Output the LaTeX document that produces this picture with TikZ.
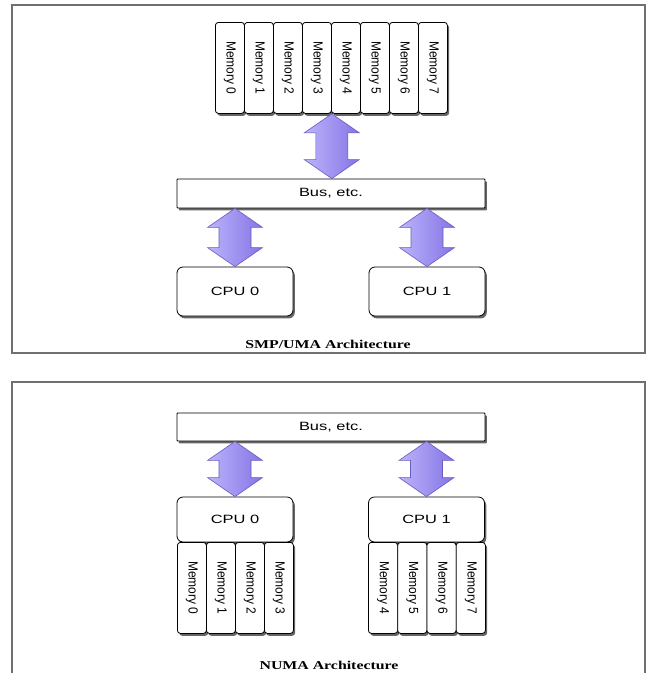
\documentclass[tikz,border=0pt]{standalone}
\usepackage{fontspec}
\usepackage{graphicx}
\setmainfont{Liberation Serif}
\newfontfamily\boxfont{Liberation Sans}
\usetikzlibrary{shadows,calc}

\definecolor{arrowlight}{HTML}{BCB4FA}
\definecolor{arrowdark}{HTML}{8474E6}
\definecolor{arrowedge}{HTML}{6A5AC2}
\definecolor{framegray}{HTML}{707070}

% wide sans text for horizontal box labels
\newcommand\widelabel[1]{\scalebox{1.37}[1]{\boxfont\fontsize{12}{12}\selectfont #1}}
\newcommand\memlabel[1]{\scalebox{1.1}[1]{\rotatebox{-90}{\boxfont\fontsize{12}{12}\selectfont #1}}}
\newcommand\archcaption[1]{\scalebox{1.32}[1]{\bfseries\fontsize{12}{12}\selectfont #1}}

% double-headed fat arrow from a top point down to a bottom point
\newcommand\fatarrow[2]{%
  \path[fatarrowstyle] let \p1=#1, \p2=#2 in
    (\x1,\y1) -- (\x1+27.5pt,\y1-19pt) -- (\x1+16pt,\y1-19pt)
    -- (\x1+16pt,\y2+19pt) -- (\x1+27.5pt,\y2+19pt) -- (\x1,\y2)
    -- (\x1-27.5pt,\y2+19pt) -- (\x1-16pt,\y2+19pt)
    -- (\x1-16pt,\y1-19pt) -- (\x1-27.5pt,\y1-19pt) -- cycle;}

\tikzset{
  unit/.style={draw=black, line width=0.8pt, fill=white, inner sep=0pt,
    drop shadow={shadow xshift=1.8pt, shadow yshift=-2.4pt, opacity=.6, fill=black}},
  membox/.style={unit, rounded corners=3pt, minimum width=29pt, minimum height=91pt, anchor=north west},
  busbox/.style={unit, rounded corners=0.8pt, minimum width=308pt, minimum height=29pt},
  cpubox/.style={unit, rounded corners=6pt, minimum width=116pt},
  fatarrowstyle/.style={left color=arrowlight, right color=arrowdark, draw=arrowedge, line width=0.6pt, line join=miter},
  framebox/.style={draw=framegray, line width=1.6pt},
}

\begin{document}
\begin{tikzpicture}[x=1pt, y=-1pt]
  \fill[white] (0,0) rectangle (649,673);
  \useasboundingbox (0,0) rectangle (649,673);

  % ---------- SMP / UMA ----------
  \draw[framebox] (12,5) rectangle (645,353);

  \foreach \i in {0,...,7}
    \node[membox] (m\i) at ({215+29*\i},22) {\memlabel{Memory \i}};

  \node[busbox] (busA) at (331,193.5) {\widelabel{Bus, etc.}};
  \node[cpubox, minimum height=49pt] (cpuA0) at (235,291.5) {\widelabel{CPU 0}};
  \node[cpubox, minimum height=49pt] (cpuA1) at (427,291.5) {\widelabel{CPU 1}};

  \fatarrow{(m3.south east)}{(busA.north -| m3.south east)}
  \fatarrow{(busA.south -| cpuA0.north)}{(cpuA0.north)}
  \fatarrow{(busA.south -| cpuA1.north)}{(cpuA1.north)}

  \node (capA) at (328,344.5) {\archcaption{SMP/UMA Architecture}};

  % ---------- NUMA ----------
  \draw[framebox] (12,680) -- (12,382) -- (645,382) -- (645,680);

  \node[busbox, minimum height=28pt] (busB) at (331,427) {\widelabel{Bus, etc.}};
  \node[cpubox, minimum height=45pt] (cpuB0) at (235,519.5) {\widelabel{CPU 0}};
  \node[cpubox, minimum height=45pt] (cpuB1) at (426.5,519.5) {\widelabel{CPU 1}};

  \foreach \i in {0,...,3}
    \node[membox] (n\i) at ({177+29*\i},542) {\memlabel{Memory \i}};
  \foreach \i in {4,...,7}
    \node[membox, minimum width=29.25pt] (n\i) at ({368+29.25*(\i-4)},542) {\memlabel{Memory \i}};

  \fatarrow{(busB.south -| cpuB0.north)}{(cpuB0.north)}
  \fatarrow{(busB.south -| cpuB1.north)}{(cpuB1.north)}

  \node (capB) at (329,665.5) {\archcaption{NUMA Architecture}};
\end{tikzpicture}
\end{document}
